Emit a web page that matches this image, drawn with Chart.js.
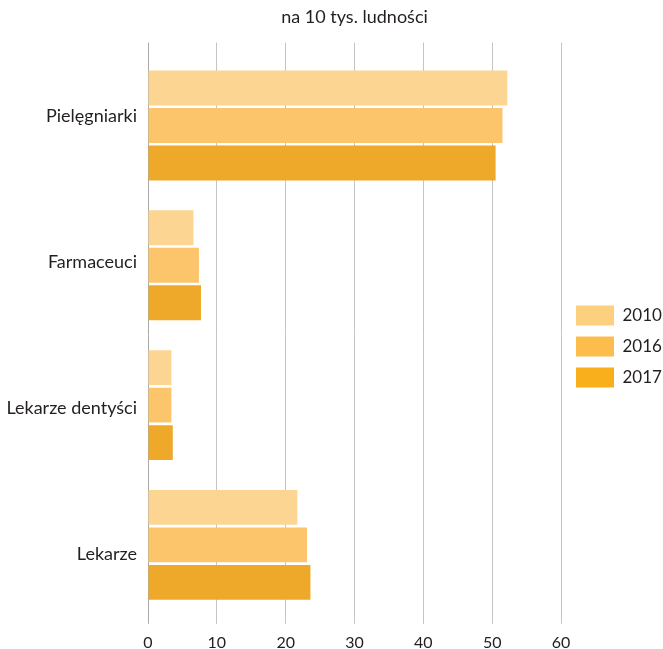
<!DOCTYPE html>
<html><head><meta charset="utf-8">
<script src="https://cdn.jsdelivr.net/npm/chart.js@4/dist/chart.umd.min.js"></script>
<style>html,body{margin:0;padding:0;background:#fff}#wrap{width:663px;height:649px;position:relative}</style>
</head><body><div id="wrap"><canvas id="c"></canvas></div>
<script>
const categories = ['Pielęgniarki', 'Farmaceuci', 'Lekarze dentyści', 'Lekarze'];
const years = ['2010', '2016', '2017'];
const values2010 = [52.2, 6.6, 3.4, 21.7];
const values2016 = [51.5, 7.4, 3.4, 23.1];
const values2017 = [50.5, 7.7, 3.6, 23.6];
const xTicks = [0, 10, 20, 30, 40, 50, 60];
const titleText = 'na 10 tys. ludności';
const barColors = ['#FCD592', '#FCC56B', '#EEA82A'];
const legendColors = ['#FDD07F', '#FCBD4C', '#F9AE1B'];

const FONT = "Lato, 'Open Sans', sans-serif";
const TXT = '#231f20';
const series = [values2010, values2016, values2017];

const gridColor = c => (c.tick && c.tick.value === 0) ? '#a9a9a9' : '#c4c4c4';

// fixed legend width + nudge; category label axis spans the full grid-line height
const layoutTweaks = {
  id: 'layoutTweaks',
  beforeLayout(chart) {
    const lg = chart.legend;
    if (lg && !lg._fixedFit) {
      const f = lg.fit;
      lg.fit = function () { f.call(this); this.width = 102; };
      lg._fixedFit = true;
    }
  },
  afterLayout(chart) {
    const lg = chart.legend;
    if (lg) {
      lg.left += 4; lg.right += 4;
      lg.top += 16; lg.bottom += 16;
    }
    const yl = chart.scales.yLabels;
    if (yl) {
      yl.top = chart.chartArea.top - 12;
      yl.bottom = chart.chartArea.bottom + 12;
      yl.height = yl.bottom - yl.top;
      yl.configure();
    }
  }
};

new Chart(document.getElementById('c'), {
  type: 'bar',
  data: {
    labels: categories,
    datasets: years.map((y, i) => ({
      label: y,
      data: series[i],
      backgroundColor: barColors[i],
      borderWidth: 0,
      categoryPercentage: 0.805,
      barPercentage: 0.93
    }))
  },
  plugins: [layoutTweaks],
  options: {
    indexAxis: 'y',
    responsive: true,
    maintainAspectRatio: false,
    animation: false,
    devicePixelRatio: 1,
    layout: { padding: { top: 0, right: 0, bottom: -12, left: 0 } },
    plugins: {
      title: { display: false },
      legend: {
        position: 'right',
        labels: {
          boxWidth: 38, boxHeight: 20, padding: 11,
          color: TXT, font: { family: FONT, size: 17 },
          generateLabels: chart => chart.data.datasets.map((d, i) => ({
            text: d.label, fillStyle: legendColors[i], strokeStyle: legendColors[i],
            lineWidth: 0, hidden: false, datasetIndex: i, fontColor: TXT
          }))
        }
      },
      tooltip: { enabled: false }
    },
    scales: {
      x: {
        type: 'linear', position: 'bottom', min: 0, max: 60,
        afterBuildTicks: s => { s.ticks = xTicks.map(v => ({ value: v })); },
        grid: { color: gridColor, lineWidth: 1, drawTicks: true, tickLength: 9, tickColor: gridColor },
        border: { display: false },
        ticks: { color: TXT, font: { family: FONT, size: 16 }, padding: 9 }
      },
      x2: {
        type: 'linear', position: 'top', min: 0, max: 60,
        afterBuildTicks: s => { s.ticks = xTicks.map(v => ({ value: v })); },
        grid: { color: gridColor, drawOnChartArea: false, drawTicks: true, tickLength: 13, tickColor: gridColor },
        border: { display: false },
        ticks: { display: false },
        title: {
          display: true, text: titleText, color: TXT,
          font: { family: FONT, size: 18, weight: 'normal' },
          padding: { top: 6, bottom: 15 }
        }
      },
      y: {
        type: 'category',
        display: false
      },
      yLabels: {
        type: 'category',
        position: 'left',
        labels: categories,
        offset: true,
        grid: { display: false, drawTicks: false },
        border: { display: false },
        afterFit: s => { s.width = 148; },
        ticks: { color: TXT, font: { family: FONT, size: 18 }, padding: 11 }
      }
    }
  }
});
</script></body></html>
